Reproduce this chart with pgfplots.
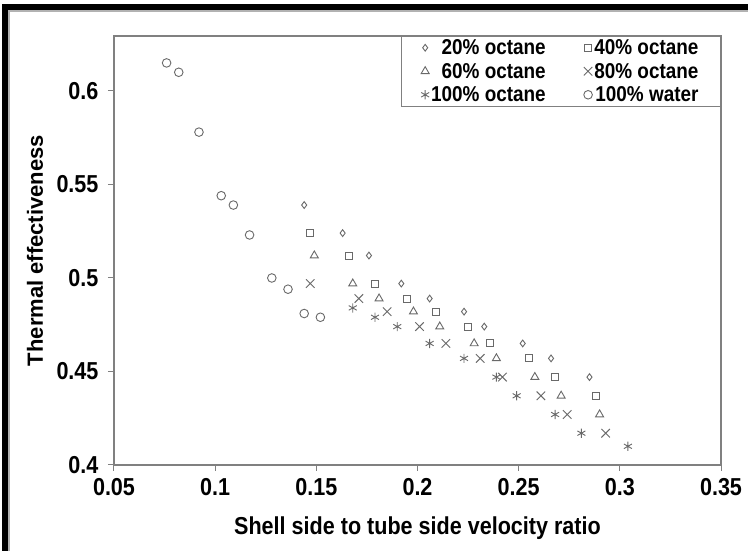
\documentclass[border=0pt]{standalone}
\usepackage{fontspec}
\setmainfont{Liberation Sans}[FakeStretch=0.88]
\newfontfamily\plainsans{Liberation Sans}
\usepackage{pgfplots}
\pgfplotsset{compat=1.18}

\definecolor{mk}{RGB}{105,105,105}
\definecolor{ax}{RGB}{128,128,128}

\begin{document}
\begin{tikzpicture}
\useasboundingbox (0,0) rectangle (748pt,551pt);
\fill[white] (0,0) rectangle (748pt,551pt);
% frame of the screenshot
\fill[black] (2pt,0) rectangle (8pt,547pt);
\fill[black] (2pt,541pt) rectangle (748pt,547pt);
\draw[gray!60, line width=1.2pt] (9pt,0) -- (9pt,540pt) -- (748pt,540pt);

\begin{axis}[
    at={(114pt,86pt)}, anchor=south west,
    scale only axis,
    width=607pt, height=429pt,
    xmin=0.05, xmax=0.35,
    ymin=0.4, ymax=0.6294,
    xtick={0.05,0.1,0.15,0.2,0.25,0.3,0.35},
    xticklabels={0.05,0.1,0.15,0.2,0.25,0.3,0.35},
    ytick={0.4,0.45,0.5,0.55,0.6},
    yticklabels={0.4,0.45,0.5,0.55,0.6},
    scaled ticks=false,
    tick align=outside,
    xtick pos=bottom, ytick pos=left,
    major tick length=6pt,
    tick style={ax, line width=1pt},
    axis line style={ax, line width=1.2pt},
    ticklabel style={font=\bfseries\fontsize{24.5}{28}\selectfont},
    xticklabel style={yshift=-4pt},
    yticklabel style={xshift=-6pt},
    xlabel={Shell side to tube side velocity ratio},
    ylabel={Thermal effectiveness},
    xlabel style={font=\bfseries\fontsize{24.5}{29}\selectfont,
        at={(axis description cs:0.5,0)}, anchor=center, yshift=-63pt},
    ylabel style={font=\plainsans\bfseries\fontsize{22}{26}\selectfont,
        at={(axis description cs:0,0.5)}, anchor=center, xshift=0pt, yshift=79pt},
    legend columns=2,
    legend cell align=right,
    legend style={at={(1,1)}, anchor=north east, draw=ax, line width=1pt,
        font=\bfseries\fontsize{21.5}{25}\selectfont,
        inner xsep=20pt, inner ysep=1pt,
        /tikz/every even column/.append style={column sep=36pt},
        row sep=3pt},
    every axis plot/.append style={only marks, mk, line width=0.9pt},
]

% 20% octane
\addplot[mark=diamond, mark size=3.4pt] coordinates {
(0.144,0.539) (0.163,0.524) (0.176,0.512) (0.192,0.497) (0.206,0.489)
(0.223,0.482) (0.233,0.474) (0.252,0.465) (0.266,0.457) (0.285,0.447)
};
\addlegendentry{20\% octane}

% 40% octane
\addplot[mark=square, mark size=3.5pt] coordinates {
(0.147,0.524) (0.166,0.512) (0.179,0.497) (0.195,0.489) (0.209,0.482)
(0.225,0.474) (0.236,0.465) (0.255,0.457) (0.268,0.447) (0.288,0.437)
};
\addlegendentry{40\% octane}

% 60% octane
\addplot[mark=triangle, mark size=4.6pt] coordinates {
(0.149,0.512) (0.168,0.497) (0.181,0.489) (0.198,0.482) (0.211,0.474)
(0.228,0.465) (0.239,0.457) (0.258,0.447) (0.271,0.437) (0.290,0.427)
};
\addlegendentry{60\% octane}

% 80% octane
\addplot[mark=x, mark size=6pt] coordinates {
(0.147,0.497) (0.171,0.489) (0.185,0.482) (0.201,0.474) (0.214,0.465)
(0.231,0.457) (0.242,0.447) (0.261,0.437) (0.274,0.427) (0.293,0.417)
};
\addlegendentry{80\% octane}

% 100% octane
\addplot[mark=asterisk, mark size=4.6pt] coordinates {
(0.168,0.484) (0.179,0.479) (0.190,0.474) (0.206,0.465) (0.223,0.457)
(0.239,0.447) (0.249,0.437) (0.268,0.427) (0.281,0.417) (0.304,0.410)
};
\addlegendentry{100\% octane}

% 100% water
\addplot[mark=o, mark size=4.3pt] coordinates {
(0.076,0.615) (0.082,0.610) (0.092,0.578) (0.103,0.544) (0.109,0.539)
(0.117,0.523) (0.128,0.500) (0.136,0.494) (0.144,0.481) (0.152,0.479)
};
\addlegendentry{100\% water}

\end{axis}
\end{tikzpicture}
\end{document}
